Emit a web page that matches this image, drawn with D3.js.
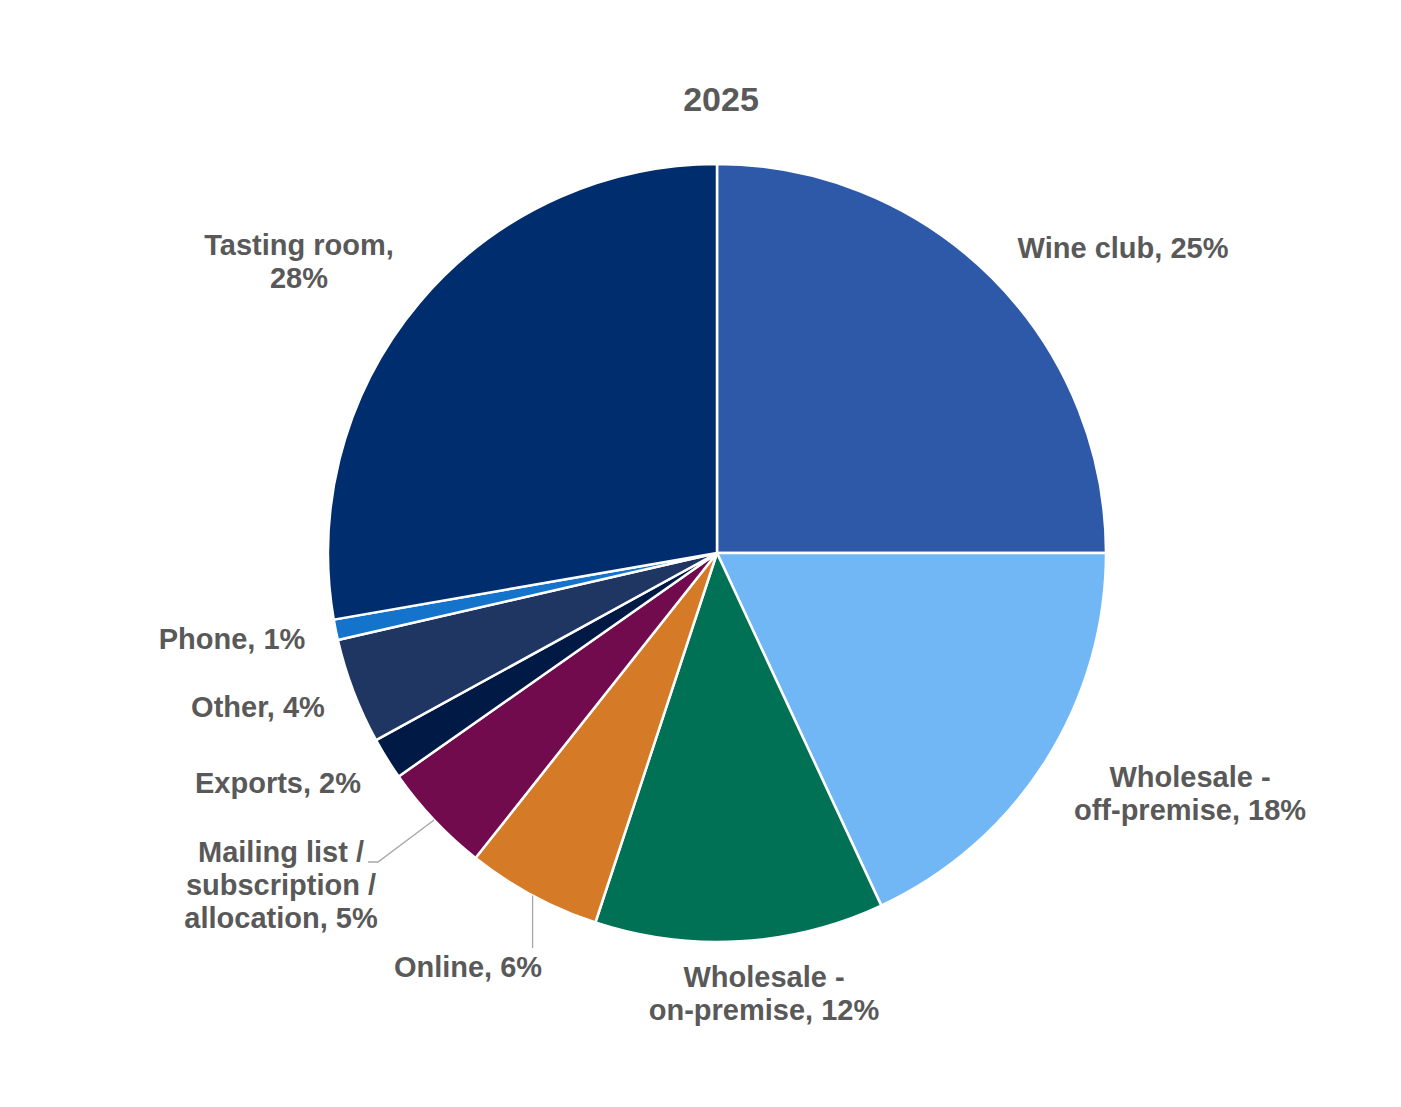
<!DOCTYPE html>
<html>
<head>
<meta charset="utf-8">
<script src="https://cdn.jsdelivr.net/npm/d3@7"></script>
<style>
  body { margin: 0; background: #fff; }
  text { font-family: "Liberation Sans", Arial, sans-serif; font-weight: bold; fill: #595959; }
</style>
</head>
<body>
<div id="svg-container"></div>
<script>
var width = 1401;
var height = 1107;

// slices, clockwise from 12 o'clock
var channels = ["Wine club", "Wholesale - off-premise", "Wholesale - on-premise", "Online",
                "Mailing list / subscription / allocation", "Exports", "Other", "Phone", "Tasting room"];
var shares = [25.0, 18.06, 12.0, 5.6, 4.6, 1.75, 4.4, 0.85, 27.74];
var colors = ["#2E59A8", "#72B7F5", "#007155", "#D57A26", "#720A4E", "#001A45", "#1F3663", "#1474CC", "#002D6E"];
var labelLines = [
  ["Wine club, 25%"],
  ["Wholesale -", "off-premise, 18%"],
  ["Wholesale -", "on-premise, 12%"],
  ["Online, 6%"],
  ["Mailing list /", "subscription /", "allocation, 5%"],
  ["Exports, 2%"],
  ["Other, 4%"],
  ["Phone, 1%"],
  ["Tasting room,", "28%"]
];
var title = "2025";

var cx = 717, cy = 553, radius = 389;
var fontSize = 29, lineHeight = 33;

// label block centres, relative to pie centre
var labelAt = [
  [406, -305], [473, 240], [47, 440], [-249, 414],
  [-436, 332], [-439, 230], [-459, 154], [-485, 86], [-418, -292]
];

var svg = d3.select("#svg-container")
            .append("svg")
            .attr("width", width)
            .attr("height", height);

svg.append("text")
   .attr("x", 721)
   .attr("y", 111)
   .attr("text-anchor", "middle")
   .style("font-size", "34px")
   .text(title);

var g = svg.append("g")
           .attr("transform", "translate(" + cx + "," + cy + ")");

var pie = d3.pie().sort(null).value(function(d) { return d; });
var arcs = pie(shares);

var arc = d3.arc().innerRadius(0).outerRadius(radius);

g.selectAll("path.slice")
 .data(arcs)
 .enter()
 .append("path")
 .attr("class", "slice")
 .attr("d", arc)
 .attr("fill", function(d, i) { return colors[i]; })
 .attr("stroke", "#fff")
 .attr("stroke-width", 2.5)
 .attr("stroke-linejoin", "round");

// leader lines for the two labels that sit away from their slice
var edge = d3.arc().innerRadius(radius).outerRadius(radius);
var leaders = [
  { i: 4, pts: [[-339, 309], [-349, 309]] },
  { i: 3, pts: [null, [-186, 395]] }
];
leaders.forEach(function(l) {
  var start = edge.centroid(arcs[l.i]);
  var pts = l.pts[0] ? [start].concat(l.pts) : [start, [start[0], l.pts[1][1]]];
  g.append("path")
   .attr("d", d3.line()(pts))
   .attr("fill", "none")
   .attr("stroke", "#A6A6A6")
   .attr("stroke-width", 1.3);
});

var labels = g.selectAll("text.label")
  .data(labelLines)
  .enter()
  .append("text")
  .attr("class", "label")
  .attr("text-anchor", "middle")
  .style("font-size", fontSize + "px")
  .attr("transform", function(d, i) { return "translate(" + labelAt[i][0] + "," + labelAt[i][1] + ")"; });

labels.each(function(lines) {
  var t = d3.select(this);
  var first = -(lines.length - 1) * lineHeight / 2 + fontSize * 0.36;
  lines.forEach(function(line, k) {
    t.append("tspan")
     .attr("x", 0)
     .attr("y", first + k * lineHeight)
     .text(line);
  });
});
</script>
</body>
</html>
